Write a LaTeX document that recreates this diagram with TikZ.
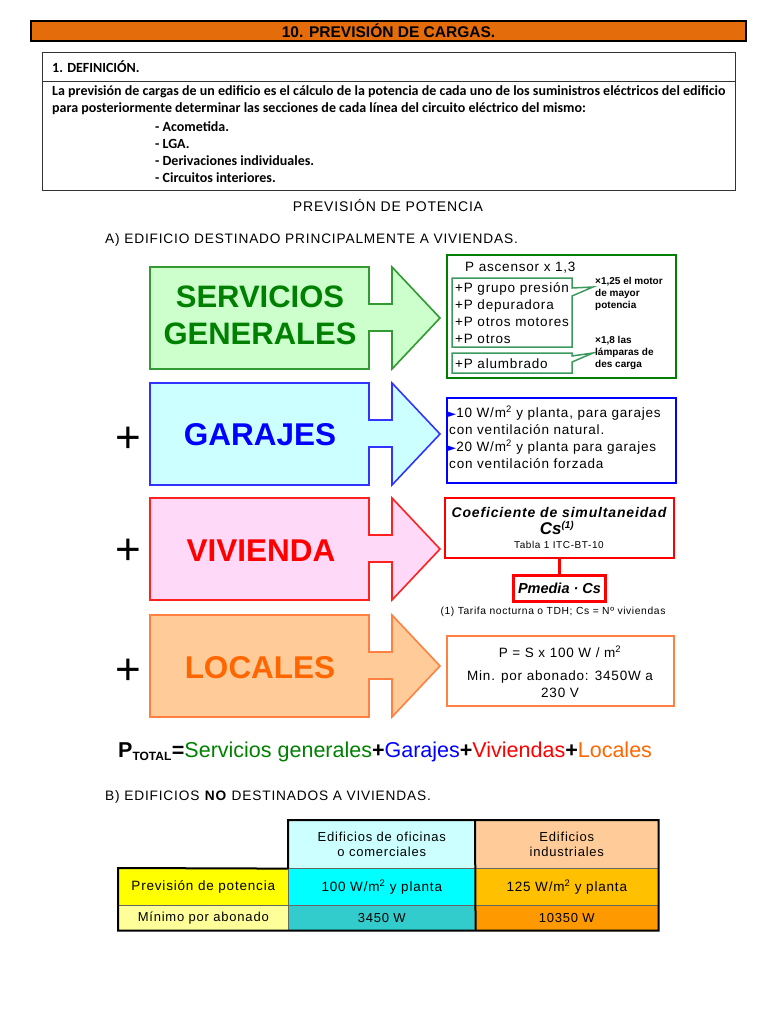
\documentclass[tikz,border=0pt]{standalone}
\usepackage{fontspec}
\setmainfont{Liberation Sans}
\newfontfamily\calfont{Carlito}
\newfontfamily\symfont{DejaVu Sans}
\newfontfamily\widefont[LetterSpace=6]{Liberation Sans}
\usetikzlibrary{positioning}
\definecolor{TitleOrange}{HTML}{E46C0A}
\definecolor{SgFill}{HTML}{CCFFCC}
\definecolor{SgLine}{HTML}{339933}
\definecolor{SgText}{HTML}{008000}
\definecolor{GaFill}{HTML}{CCFFFF}
\definecolor{GaLine}{HTML}{3333FF}
\definecolor{GaText}{HTML}{0000FF}
\definecolor{ViFill}{HTML}{FFD9F7}
\definecolor{ViLine}{HTML}{FF2020}
\definecolor{ViText}{HTML}{FF0000}
\definecolor{LoFill}{HTML}{FFCC99}
\definecolor{LoLine}{HTML}{FF8040}
\definecolor{LoText}{HTML}{FF6600}
\definecolor{InnerGreen}{HTML}{3C9A5F}
\definecolor{CellCyan}{HTML}{00FFFF}
\definecolor{CellTeal}{HTML}{33CCCC}
\definecolor{CellGold}{HTML}{FFC000}
\definecolor{CellOrange}{HTML}{FF9900}
\definecolor{CellYellow}{HTML}{FFFF00}
\definecolor{CellPale}{HTML}{FFFF99}
\newcommand{\fsz}[1]{\fontsize{#1}{#1}\selectfont}
\newcommand{\tri}{{\symfont\color{GaText}\fsz{10.5}►}}

\begin{document}
\begin{tikzpicture}[x=1pt, y=-1pt,
    deftext/.style={anchor=west, inner sep=0pt, font=\calfont\bfseries\fsz{14}},
    arrowbody/.style={line width=1.6pt, line join=miter},
    bigword/.style={font=\bfseries\fsz{31}, inner sep=0pt},
    infobox/.style={draw, line width=2pt, fill=white, anchor=north west, inner sep=0pt},
    itemtext/.style={anchor=west, inner sep=0pt, font=\widefont\fsz{13.5}},
    notetext/.style={inner sep=0pt, font=\bfseries\fontsize{10}{11.8}\selectfont, align=left},
    plussign/.style={font=\fsz{44}, inner sep=0pt},
    cell/.style={draw=black!60, line width=0.6pt, minimum height=#1, inner sep=0pt, align=center, anchor=north west, font=\widefont\fontsize{13}{15}\selectfont},
    cell/.default=37pt
]
\useasboundingbox (0,0) rectangle (768,1024);

% Title bar
\node[draw=black, line width=2pt, fill=TitleOrange, minimum width=715pt, minimum height=20pt, anchor=north west, inner sep=0pt] (title) at (30,20) {};
\node[font=\bfseries\fsz{15.5}] (titletext) at (title.center) {10. PREVISIÓN DE CARGAS.};

% Definition
\node[draw=black!80, line width=1.4pt, minimum width=693pt, minimum height=138pt, anchor=north west, inner sep=0pt] (defbox) at (42,52) {};
\draw[black!80, line width=1pt] (42,82) -- (735,82);
\node[deftext] (defhead) at (52,67) {1. DEFINICIÓN.};
\node[deftext] (defl1) at (52,92) {La previsión de cargas de un edificio es el cálculo de la potencia de cada uno de los suministros eléctricos del edificio};
\node[deftext] (defl2) at (52,109) {para posteriormente determinar las secciones de cada línea del circuito eléctrico del mismo:};
\node[deftext] (defl3) at (155,127) {- Acometida.};
\node[deftext] (defl4) at (155,144) {- LGA.};
\node[deftext] (defl5) at (155,161) {- Derivaciones individuales.};
\node[deftext] (defl6) at (155,178) {- Circuitos interiores.};

% Headings
\node[font=\widefont\fsz{14}] (prevpot) at (388,205) {PREVISIÓN DE POTENCIA};
\node[anchor=west, inner sep=0pt, font=\widefont\fsz{13.7}] (parta) at (105,240) {A) EDIFICIO DESTINADO PRINCIPALMENTE A VIVIENDAS.};

% Big arrows
\foreach \t/\c in {267/Sg, 383/Ga, 498/Vi, 615/Lo}
  \draw[arrowbody, fill=\c Fill, draw=\c Line] (150,\t) -- (369,\t) -- (369,\t+37) -- (392,\t+37) -- (392,\t) -- (440,\t+51)
      -- (392,\t+102) -- (392,\t+64) -- (369,\t+64) -- (369,\t+102) -- (150,\t+102) -- cycle;

\node[bigword, text=SgText] (sg1) at (260,297) {SERVICIOS};
\node[bigword, text=SgText] (sg2) at (260,334) {GENERALES};
\node[bigword, text=GaText, font=\bfseries\fsz{31.5}] (garajes) at (260,435) {GARAJES};
\node[bigword, text=ViText, font=\bfseries\fsz{31.5}] (vivienda) at (261,551) {VIVIENDA};
\node[bigword, text=LoText, font=\bfseries\fsz{31.5}] (locales) at (260,668) {LOCALES};

\node[plussign] (plus1) at (128,440) {+};
\node[plussign] (plus2) at (128,552) {+};
\node[plussign] (plus3) at (128,672) {+};

% Servicios generales
\node[infobox, draw=SgText, minimum width=229pt, minimum height=123pt] (sgbox) at (446,254) {};
\node[itemtext] (asc) at (465,268) {P ascensor x 1,3};
\draw[InnerGreen, line width=1.5pt, line join=miter] (452,278) -- (572,278) -- (572,288) -- (593,287) -- (572,296) -- (572,347) -- (452,347) -- cycle;
\draw[InnerGreen, line width=1.5pt, line join=miter] (452,353) -- (572,353) -- (572,356) -- (593,353) -- (572,362) -- (572,373) -- (452,373) -- cycle;
\node[itemtext] (grp) at (455,289) {+P grupo presión};
\node[itemtext] (dep) at (455,306) {+P depuradora};
\node[itemtext] (mot) at (455,322) {+P otros motores};
\node[itemtext] (otr) at (455,339) {+P otros};
\node[itemtext] (alu) at (455,364) {+P alumbrado};
\node[notetext, anchor=north west] (note1) at (595,277) {×1,25 el motor\\de mayor\\potencia};
\node[notetext, anchor=north west] (note2) at (595,336) {×1,8 las\\lámparas de\\des carga};

% Garajes
\node[infobox, draw=GaText, minimum width=229pt, minimum height=85pt] (gabox) at (446,397) {};
\node[itemtext] (ga1) at (448,413) {\tri10 W/m\textsuperscript{2} y planta, para garajes};
\node[itemtext] (ga2) at (449,430) {con ventilación natural.};
\node[itemtext] (ga3) at (448,447) {\tri20 W/m\textsuperscript{2} y planta para garajes};
\node[itemtext] (ga4) at (449,464) {con ventilación forzada};

% Vivienda
\node[infobox, draw=ViText, minimum width=229pt, minimum height=60pt] (coef) at (444,497) {};
\node[font=\widefont\bfseries\itshape\fsz{14}] (coefa) at (559,512) {Coeficiente de simultaneidad};
\node[font=\bfseries\itshape\fsz{17}] (coefb) at (557,528) {Cs\textsuperscript{\fsz{10}(1)}};
\node[font=\widefont\fsz{10}] (coefc) at (559,545) {Tabla 1 ITC-BT-10};
\node[infobox, draw=ViText, line width=2.5pt, anchor=north, minimum width=92pt, minimum height=26pt, below=15pt of coef] (pmedia) {\bfseries\itshape\fsz{14.5}Pmedia · Cs};
\draw[ViText, line width=3pt] (coef) -- (pmedia);
\node[font=\widefont\fsz{10.3}] (footnote) at (553,612) {(1) Tarifa nocturna o TDH; Cs = Nº viviendas};

% Locales
\node[infobox, draw=LoLine, minimum width=227pt, minimum height=70pt] (lobox) at (446,635) {};
\node[font=\widefont\fsz{13.5}] (lo1) at (560,652) {P = S x 100 W / m\textsuperscript{2}};
\node[font=\widefont\fsz{13.5}] (lo2) at (560,677) {Min. por abonado: 3450W a};
\node[font=\widefont\fsz{13.5}] (lo3) at (560,693) {230 V};

% Total
\node[anchor=west, inner sep=0pt, font=\fsz{21.5}] (ptotal) at (118,752)
  {\textbf{P\textsubscript{\fsz{12}TOTAL}=}\textcolor{SgText}{Servicios generales}\textbf{+}\textcolor{GaText}{Garajes}\textbf{+}\textcolor{ViText}{Viviendas}\textbf{+}\textcolor{LoText}{Locales}};

% Part B
\node[anchor=west, inner sep=0pt, font=\widefont\fsz{13.7}] (partb) at (105,797) {B) EDIFICIOS \textbf{NO} DESTINADOS A VIVIENDAS.};

% Table
\node[cell=48pt, fill=GaFill, minimum width=187pt] (h2) at (288,820) {Edificios de oficinas\\o comerciales};
\node[cell=48pt, fill=LoFill, minimum width=183pt] (h3) at (475,820) {Edificios\\industriales};
\node[cell, fill=CellYellow, minimum width=170pt, font=\widefont\fsz{13.5}] (r1c1) at (118,868) {Previsión de potencia};
\node[cell, fill=CellCyan, minimum width=187pt, font=\widefont\fsz{13.5}] (r1c2) at (288,868) {100 W/m\textsuperscript{2} y planta};
\node[cell, fill=CellGold, minimum width=183pt, font=\widefont\fsz{13.5}] (r1c3) at (475,868) {125 W/m\textsuperscript{2} y planta};
\node[cell=25pt, fill=CellPale, minimum width=170pt] (r2c1) at (118,905) {Mínimo por abonado};
\node[cell=25pt, fill=CellTeal, minimum width=187pt] (r2c2) at (288,905) {3450 W};
\node[cell=25pt, fill=CellOrange, minimum width=183pt] (r2c3) at (475,905) {10350 W};
\draw[line width=2pt] (h2.south west) -- (h2.north west) -- (h3.north east) -- (r2c3.south east) -- (r2c1.south west) -- (r1c1.north west) -- (h2.south west);
\draw[line width=2pt] (h3.north west) -- (r2c2.south east);
\end{tikzpicture}
\end{document}
